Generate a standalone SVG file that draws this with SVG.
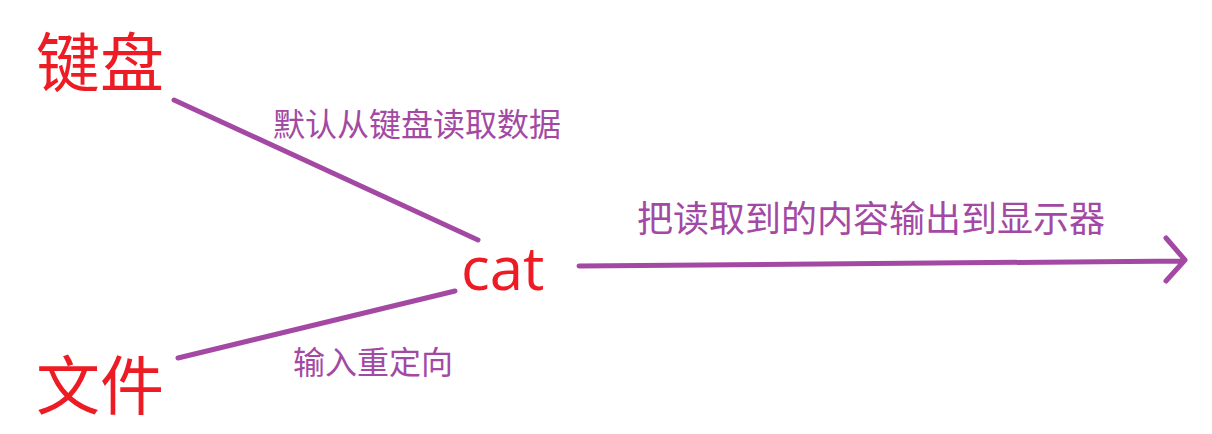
<svg xmlns="http://www.w3.org/2000/svg" width="1212" height="434" viewBox="0 0 1212 434">
<style>
.node{fill:#ed1c24;font-family:"Noto Sans CJK SC","Liberation Sans",sans-serif}
.lbl{fill:#a349a4;font-family:"Noto Sans CJK SC",sans-serif}
.con{stroke:#a349a4;stroke-width:5;fill:none;stroke-linecap:round;stroke-linejoin:round}
</style>
<rect width="1212" height="434" fill="#fff"/>
<g id="connectors">
<line class="con" x1="174" y1="100" x2="478" y2="240"/>
<line class="con" x1="178" y1="358" x2="455" y2="291"/>
<path class="con" d="M579,266 L1184,261 M1166,238 L1185,260 L1166,281"/>
<text class="lbl" x="273" y="136" font-size="32">默认从键盘读取数据</text>
<text class="lbl" x="293" y="374" font-size="32">输入重定向</text>
<text class="lbl" x="637" y="232" font-size="36">把读取到的内容输出到显示器</text>
</g>
<g id="keyboard"><text class="node" x="36" y="86" font-size="64">键盘</text></g>
<g id="file"><text class="node" x="36" y="409" font-size="64">文件</text></g>
<g id="cat"><text class="node" x="461" y="290" font-size="60" style="font-family:'Open Sans',sans-serif">cat</text></g>
</svg>
